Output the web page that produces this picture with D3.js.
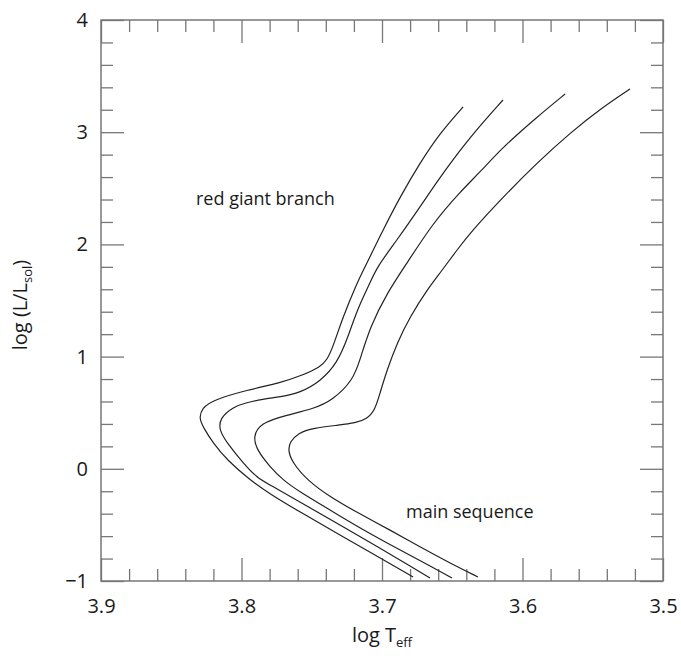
<!DOCTYPE html>
<html lang="en">
<head>
<meta charset="utf-8">
<title>Isochrones: log L vs log Teff</title>
<script src="https://cdn.jsdelivr.net/npm/d3@7"></script>
<style>
  body { margin: 0; background: #fff; }
  text { font-family: "Open Sans", sans-serif; fill: #1a1a1a; }
</style>
</head>
<body>
<div id="chart"></div>
<script>
// tick labels
var xMajor = [3.9, 3.8, 3.7, 3.6, 3.5];
var yMajor = [-1, 0, 1, 2, 3, 4];

// four tracks (top of the giant branch -> bottom of main sequence)
var teffA = [3.6423, 3.6587, 3.6730, 3.6872, 3.6993, 3.7121, 3.7178, 3.7278, 3.7349, 3.7391, 3.7441, 3.7562, 3.7726, 3.7961, 3.8203, 3.8281, 3.8302, 3.8274, 3.8203, 3.8103, 3.7940, 3.7797, 3.7584, 3.7299, 3.7014, 3.6779];
var lumA  = [3.225, 2.993, 2.726, 2.422, 2.128, 1.799, 1.656, 1.353, 1.086, 0.970, 0.907, 0.836, 0.765, 0.702, 0.613, 0.542, 0.453, 0.373, 0.230, 0.078, -0.100, -0.225, -0.385, -0.590, -0.795, -0.964];

var teffB = [3.6139, 3.6374, 3.6566, 3.6730, 3.6893, 3.7036, 3.7085, 3.7178, 3.7249, 3.7320, 3.7434, 3.7584, 3.7726, 3.7847, 3.7975, 3.8060, 3.8153, 3.8160, 3.8103, 3.7989, 3.7890, 3.7797, 3.7584, 3.7299, 3.7014, 3.6801, 3.6658];
var lumB  = [3.287, 2.957, 2.636, 2.333, 2.039, 1.799, 1.656, 1.415, 1.148, 0.943, 0.783, 0.676, 0.640, 0.622, 0.586, 0.551, 0.453, 0.346, 0.230, 0.052, -0.080, -0.144, -0.296, -0.501, -0.706, -0.866, -0.973];

var teffC = [3.5697, 3.5897, 3.6139, 3.6302, 3.6445, 3.6637, 3.6822, 3.6964, 3.7085, 3.7157, 3.7206, 3.7349, 3.7491, 3.7676, 3.7868, 3.7918, 3.7890, 3.7797, 3.7705, 3.7584, 3.7370, 3.7157, 3.6872, 3.6658, 3.6502];
var lumC  = [3.340, 3.135, 2.868, 2.645, 2.467, 2.191, 1.834, 1.567, 1.264, 0.970, 0.791, 0.613, 0.533, 0.480, 0.408, 0.283, 0.168, 0.016, -0.100, -0.207, -0.367, -0.528, -0.724, -0.866, -0.973];

var teffD = [3.5235, 3.5427, 3.5662, 3.5897, 3.6139, 3.6374, 3.6466, 3.6587, 3.6680, 3.6801, 3.6893, 3.6964, 3.7014, 3.7050, 3.7107, 3.7192, 3.7299, 3.7491, 3.7598, 3.7655, 3.7669, 3.7641, 3.7534, 3.7370, 3.7157, 3.6943, 3.6730, 3.6516, 3.6317];
var lumD  = [3.385, 3.225, 2.993, 2.726, 2.422, 2.102, 1.950, 1.745, 1.594, 1.353, 1.121, 0.881, 0.676, 0.524, 0.444, 0.408, 0.390, 0.364, 0.319, 0.239, 0.168, 0.061, -0.100, -0.251, -0.403, -0.545, -0.697, -0.840, -0.964];

var tracks = [[teffA, lumA], [teffB, lumB], [teffC, lumC], [teffD, lumD]];

var w = 681, h = 656;
var margin = {left: 101, right: 18, top: 20, bottom: 75};

var svg = d3.select("#chart")
  .append("svg")
  .attr("width", w)
  .attr("height", h);

var x = d3.scaleLinear().domain([3.9, 3.5]).range([margin.left, w - margin.right]);
var y = d3.scaleLinear().domain([-1, 4]).range([h - margin.bottom, margin.top]);

var axisColor = "#777";
var minorX = d3.range(3.9, 3.49, -0.02).filter(function(d) { return Math.abs(d * 10 - Math.round(d * 10)) > 1e-6; });
var minorY = d3.range(-1, 4.01, 0.2).filter(function(d) { return Math.abs(d - Math.round(d)) > 1e-6; });

function styleAxis(g) {
  g.select(".domain").remove();
  g.selectAll(".tick line").attr("stroke", axisColor).attr("stroke-width", 1.3);
  g.selectAll(".tick text").attr("font-size", "20px").attr("fill", "#1a1a1a");
}

// bottom
svg.append("g").attr("transform", "translate(0," + y(-1) + ")")
  .call(d3.axisBottom(x).tickValues(xMajor).tickSize(-23).tickPadding(18).tickFormat(d3.format(".1f")))
  .call(styleAxis);
svg.append("g").attr("transform", "translate(0," + y(-1) + ")")
  .call(d3.axisBottom(x).tickValues(minorX).tickSize(-12).tickFormat(""))
  .call(styleAxis);
// top
svg.append("g").attr("transform", "translate(0," + y(4) + ")")
  .call(d3.axisTop(x).tickValues(xMajor).tickSize(-23).tickFormat(""))
  .call(styleAxis);
svg.append("g").attr("transform", "translate(0," + y(4) + ")")
  .call(d3.axisTop(x).tickValues(minorX).tickSize(-12).tickFormat(""))
  .call(styleAxis);
// left
svg.append("g").attr("transform", "translate(" + x(3.9) + ",0)")
  .call(d3.axisLeft(y).tickValues(yMajor).tickSize(-23).tickPadding(13).tickFormat(d3.format("d")))
  .call(styleAxis);
svg.append("g").attr("transform", "translate(" + x(3.9) + ",0)")
  .call(d3.axisLeft(y).tickValues(minorY).tickSize(-12).tickFormat(""))
  .call(styleAxis);
// right
svg.append("g").attr("transform", "translate(" + x(3.5) + ",0)")
  .call(d3.axisRight(y).tickValues(yMajor).tickSize(-23).tickFormat(""))
  .call(styleAxis);
svg.append("g").attr("transform", "translate(" + x(3.5) + ",0)")
  .call(d3.axisRight(y).tickValues(minorY).tickSize(-12).tickFormat(""))
  .call(styleAxis);

// frame
svg.append("rect")
  .attr("x", x(3.9)).attr("y", y(4))
  .attr("width", x(3.5) - x(3.9)).attr("height", y(-1) - y(4))
  .attr("fill", "none").attr("stroke", axisColor).attr("stroke-width", 1.5);

// tracks
var line = d3.line()
  .x(function(d) { return x(d[0]); })
  .y(function(d) { return y(d[1]); })
  .curve(d3.curveBasis);

svg.selectAll("path.track")
  .data(tracks)
  .enter()
  .append("path")
  .attr("class", "track")
  .attr("d", function(t) { return line(d3.zip(t[0], t[1])); })
  .attr("fill", "none")
  .attr("stroke", "#222")
  .attr("stroke-width", 1.2);

// labels inside the plot
svg.append("text").attr("x", 196).attr("y", 205).attr("font-size", "18px").text("red giant branch");
svg.append("text").attr("x", 406).attr("y", 518).attr("font-size", "18px").text("main sequence");

// x title
var xt = svg.append("text")
  .attr("x", (x(3.9) + x(3.5)) / 2).attr("y", 642)
  .attr("text-anchor", "middle").attr("font-size", "20px");
xt.append("tspan").text("log T");
xt.append("tspan").attr("font-size", "13px").attr("dy", "5").text("eff");

// y title
var yt = svg.append("text")
  .attr("transform", "translate(27," + 305 + ") rotate(-90)")
  .attr("text-anchor", "middle").attr("font-size", "20px");
yt.append("tspan").text("log (L/L");
yt.append("tspan").attr("font-size", "13px").attr("dy", "5").text("sol");
yt.append("tspan").attr("dy", "-5").text(")");
</script>
</body>
</html>
